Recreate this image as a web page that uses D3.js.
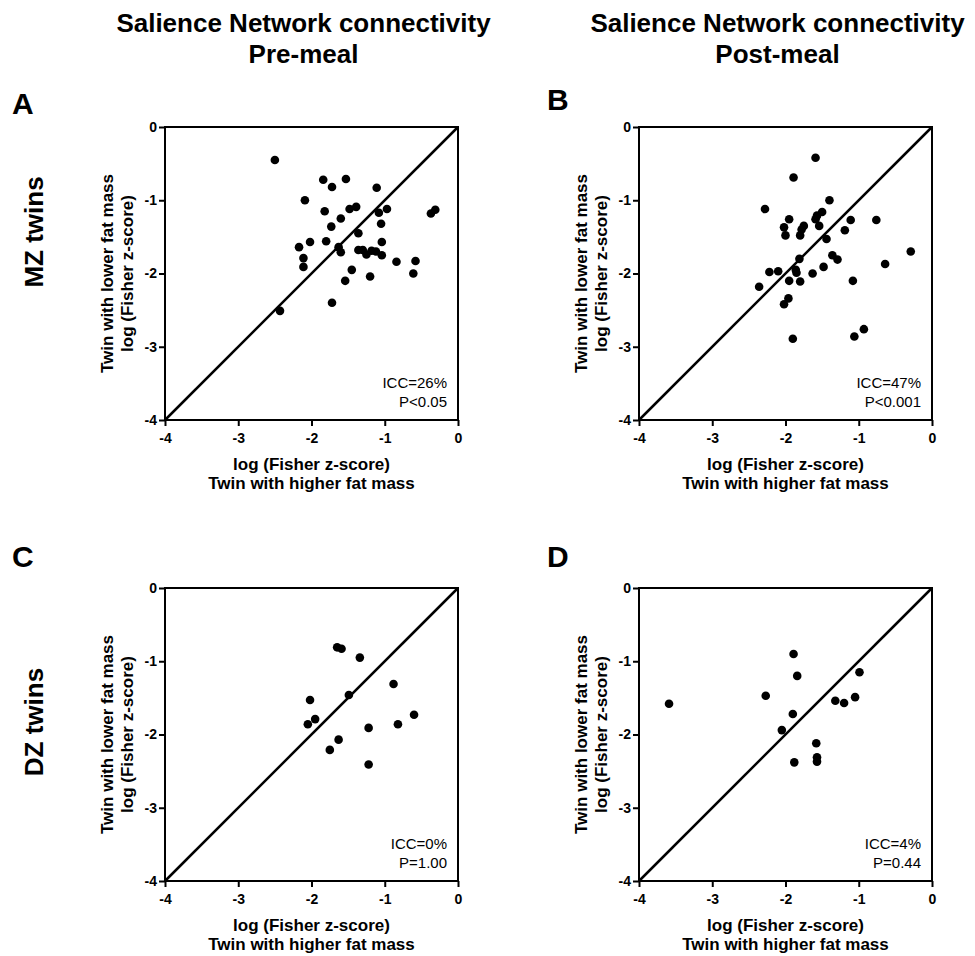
<!DOCTYPE html>
<html>
<head>
    <meta charset="utf-8">
    <title>Salience Network connectivity</title>
    <script src="https://d3js.org/d3.v7.min.js"></script>
    <style>
        body { margin: 0; background: #fff; }
        text { font-family: "Liberation Sans", Arial, sans-serif; fill: #000; }
        .tick line { stroke: #000; stroke-width: 2px; }
    </style>
</head>
<body>
<div id="svg_container"></div>
<script>
    const width = 975;
    const height = 956;

    // values: x = twin with higher fat mass, y = twin with lower fat mass
    const mzPreX  = [-2.50, -1.84, -1.72, -1.53, -1.11, -2.09, -1.82, -1.48, -1.39, -1.60, -1.73, -1.08, -0.97,
                     -1.05, -1.36, -1.80, -2.02, -2.17, -1.63, -1.60, -1.36, -1.30, -1.25, -1.18, -1.12, -1.04,
                     -1.04, -0.84, -2.11, -2.11, -1.45, -1.54, -1.20, -1.72, -2.43, -0.58, -0.61, -0.37, -0.31];
    const mzPreY  = [-0.45, -0.72, -0.82, -0.71, -0.83, -1.00, -1.15, -1.12, -1.09, -1.25, -1.36, -1.17, -1.12,
                     -1.32, -1.45, -1.56, -1.57, -1.64, -1.64, -1.71, -1.68, -1.68, -1.74, -1.69, -1.70, -1.75,
                     -1.57, -1.84, -1.79, -1.91, -1.95, -2.10, -2.04, -2.40, -2.51, -1.83, -2.00, -1.18, -1.13];

    const mzPostX = [-1.59, -1.89, -1.40, -2.28, -1.95, -1.59, -1.57, -1.50, -1.54, -1.75, -1.78, -1.80, -2.02,
                     -2.00, -1.44, -1.19, -1.11, -0.76, -0.29, -0.64, -1.36, -1.29, -1.81, -1.48, -2.22, -2.10,
                     -1.86, -1.85, -1.63, -2.36, -1.95, -1.80, -1.08, -1.96, -2.02, -1.90, -1.06, -0.93];
    const mzPostY = [-0.42, -0.69, -1.00, -1.12, -1.26, -1.26, -1.21, -1.16, -1.35, -1.35, -1.40, -1.48, -1.37,
                     -1.48, -1.53, -1.41, -1.27, -1.27, -1.70, -1.87, -1.75, -1.81, -1.80, -1.91, -1.98, -1.97,
                     -1.95, -1.99, -2.00, -2.18, -2.10, -2.11, -2.10, -2.34, -2.42, -2.89, -2.86, -2.76];

    const dzPreX  = [-1.65, -1.59, -1.34, -0.88, -1.49, -2.02, -2.05, -1.95, -0.60, -0.82, -1.22, -1.63, -1.75, -1.22];
    const dzPreY  = [-0.81, -0.83, -0.95, -1.31, -1.46, -1.53, -1.86, -1.79, -1.73, -1.86, -1.91, -2.07, -2.21, -2.41];

    const dzPostX = [-3.59, -1.89, -1.84, -2.27, -1.90, -2.05, -0.99, -1.05, -1.32, -1.20, -1.58, -1.57, -1.57, -1.88];
    const dzPostY = [-1.58, -0.90, -1.20, -1.47, -1.72, -1.94, -1.15, -1.49, -1.54, -1.57, -2.12, -2.31, -2.37, -2.38];

    const tickValues = [-4, -3, -2, -1, 0];
    const panelLetters = ["A", "B", "C", "D"];
    const iccLabels = ["ICC=26%", "ICC=47%", "ICC=0%", "ICC=4%"];
    const pLabels = ["P<0.05", "P<0.001", "P=1.00", "P=0.44"];
    const columnTitles = ["Pre-meal", "Post-meal"];
    const rowLabels = ["MZ twins", "DZ twins"];

    const plot_size = 293;
    const col_left = [165, 639];
    const row_top = [127, 588];

    const panels = [
        { xs: mzPreX,  ys: mzPreY,  col: 0, row: 0, letterX: 12,  letterY: 114 },
        { xs: mzPostX, ys: mzPostY, col: 1, row: 0, letterX: 547, letterY: 110 },
        { xs: dzPreX,  ys: dzPreY,  col: 0, row: 1, letterX: 12,  letterY: 567 },
        { xs: dzPostX, ys: dzPostY, col: 1, row: 1, letterX: 547, letterY: 567 }
    ];

    const svg = d3.select("#svg_container")
        .append("svg")
        .attr("id", "svg_target_id")
        .attr("width", width)
        .attr("height", height);

    // column titles
    columnTitles.forEach((t, c) => {
        const cx = col_left[c] + plot_size / 2 - 8;
        const title = svg.append("text")
            .attr("text-anchor", "middle")
            .attr("font-size", 26)
            .attr("font-weight", "bold");
        title.append("tspan").attr("x", cx).attr("y", 32).text("Salience Network connectivity");
        title.append("tspan").attr("x", cx).attr("y", 63).text(t);
    });

    // row labels
    const rowCenters = [232, 722];
    rowLabels.forEach((t, r) => {
        svg.append("text")
            .attr("transform", "translate(43," + rowCenters[r] + ") rotate(-90)")
            .attr("text-anchor", "middle")
            .attr("font-size", 26)
            .attr("font-weight", "bold")
            .text(t);
    });

    const fmt = d => String(d);

    panels.forEach((p, i) => {
        const left = col_left[p.col];
        const top = row_top[p.row];

        const x = d3.scaleLinear().domain([-4, 0]).range([left, left + plot_size]);
        const y = d3.scaleLinear().domain([-4, 0]).range([top + plot_size, top]);

        // panel letter
        svg.append("text")
            .attr("x", p.letterX)
            .attr("y", p.letterY)
            .attr("font-size", 30)
            .attr("font-weight", "bold")
            .text(panelLetters[i]);

        // axes
        const gx = svg.append("g")
            .attr("transform", "translate(0," + (top + plot_size) + ")")
            .call(d3.axisBottom(x).tickValues(tickValues).tickSize(6).tickPadding(7).tickFormat(fmt));
        gx.select(".domain").remove();

        const gy = svg.append("g")
            .attr("transform", "translate(" + left + ",0)")
            .call(d3.axisLeft(y).tickValues(tickValues).tickSize(6).tickPadding(2).tickFormat(fmt));
        gy.select(".domain").remove();

        [gx, gy].forEach(g => g.selectAll("text")
            .attr("font-family", "'Liberation Sans', Arial, sans-serif")
            .attr("font-size", 14)
            .attr("font-weight", "bold")
            .attr("fill", "#000"));

        // frame
        svg.append("rect")
            .attr("x", left)
            .attr("y", top)
            .attr("width", plot_size)
            .attr("height", plot_size)
            .attr("fill", "none")
            .attr("stroke", "#000")
            .attr("stroke-width", 2);

        // identity line
        svg.append("line")
            .attr("x1", x(-4)).attr("y1", y(-4))
            .attr("x2", x(0)).attr("y2", y(0))
            .attr("stroke", "#000")
            .attr("stroke-width", 2.5);

        // points
        svg.append("g")
            .selectAll("circle")
            .data(p.xs.map((v, k) => [v, p.ys[k]]))
            .enter()
            .append("circle")
            .attr("cx", d => x(d[0]))
            .attr("cy", d => y(d[1]))
            .attr("r", 4.3)
            .attr("fill", "#000");

        // stats
        svg.append("text")
            .attr("x", left + plot_size - 11)
            .attr("y", top + plot_size - 32)
            .attr("text-anchor", "end")
            .attr("font-size", 15)
            .text(iccLabels[i]);
        svg.append("text")
            .attr("x", left + plot_size - 11)
            .attr("y", top + plot_size - 13)
            .attr("text-anchor", "end")
            .attr("font-size", 15)
            .text(pLabels[i]);

        // x axis label
        const xl = svg.append("text")
            .attr("text-anchor", "middle")
            .attr("font-size", 17)
            .attr("font-weight", "bold");
        xl.append("tspan").attr("x", left + plot_size / 2).attr("y", top + plot_size + 50).text("log (Fisher z-score)");
        xl.append("tspan").attr("x", left + plot_size / 2).attr("y", top + plot_size + 69).text("Twin with higher fat mass");

        // y axis label
        const yl = svg.append("text")
            .attr("transform", "translate(" + left + "," + (top + plot_size / 2) + ") rotate(-90)")
            .attr("text-anchor", "middle")
            .attr("font-size", 17)
            .attr("font-weight", "bold");
        yl.append("tspan").attr("x", 0).attr("y", -52).text("Twin with lower fat mass");
        yl.append("tspan").attr("x", 0).attr("y", -32).text("log (Fisher z-score)");
    });
</script>
</body>
</html>
